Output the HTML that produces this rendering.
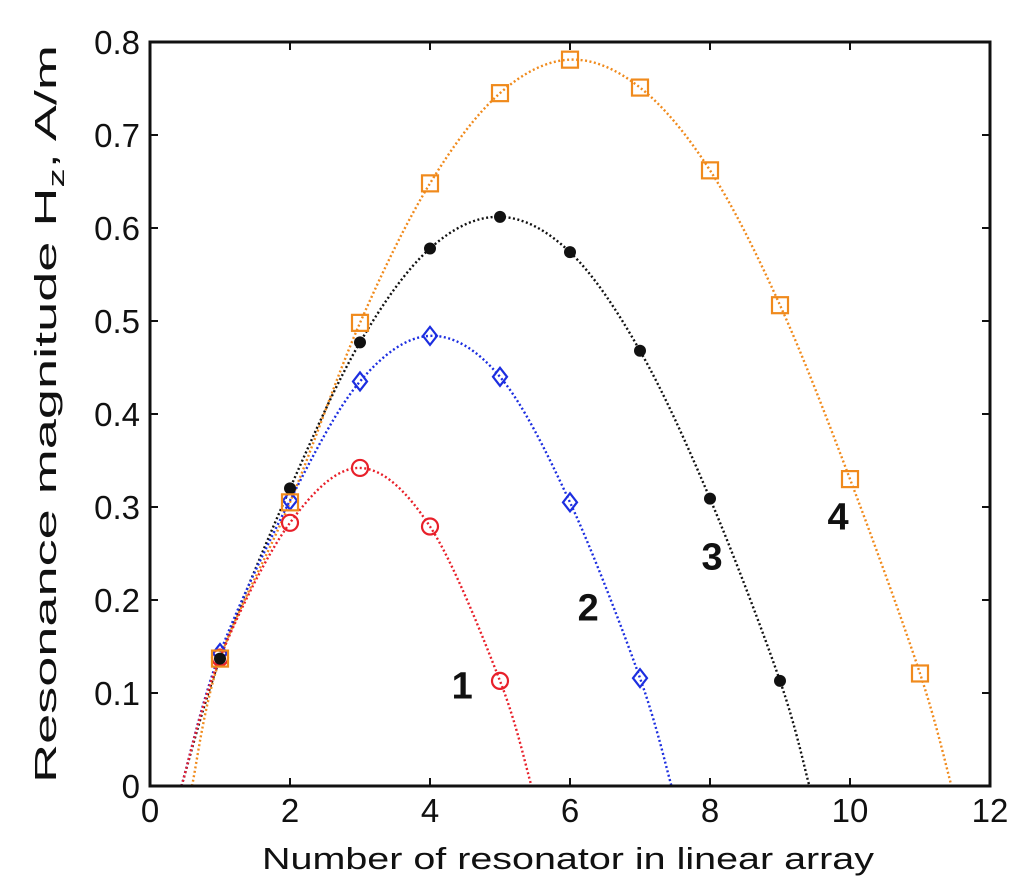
<!DOCTYPE html>
<html><head><meta charset="utf-8"><style>
body{margin:0;background:#fff}
svg{display:block}
text{font-family:"Liberation Sans",sans-serif}
</style></head><body>
<svg id="chart" width="1024" height="890" viewBox="0 0 1024 890" xmlns="http://www.w3.org/2000/svg">
<rect x="0" y="0" width="1024" height="890" fill="#fff"/>
<g id="plot"></g>
<g id="axes"></g>
<text x="262" y="869" font-size="31" textLength="612" lengthAdjust="spacingAndGlyphs" fill="#111">Number of resonator in linear array</text>
<text transform="translate(56,783) rotate(-90)" font-size="31" textLength="738" lengthAdjust="spacingAndGlyphs" fill="#111">Resonance magnitude H<tspan font-size="22" dy="8">z</tspan><tspan dy="-8">, A/m</tspan></text>
</svg>
<script>
const xTicks=[0,2,4,6,8,10,12];
const yTicks=[0,0.1,0.2,0.3,0.4,0.5,0.6,0.7,0.8];
const xs1=[1,2,3,4,5];
const ys1=[0.138,0.283,0.342,0.279,0.113];
const xs2=[1,2,3,4,5,6,7];
const ys2=[0.143,0.307,0.435,0.484,0.440,0.305,0.116];
const xs3=[1,2,3,4,5,6,7,8,9];
const ys3=[0.137,0.320,0.477,0.578,0.612,0.574,0.468,0.309,0.113];
const xs4=[1,2,3,4,5,6,7,8,9,10,11];
const ys4=[0.137,0.305,0.498,0.648,0.745,0.781,0.751,0.662,0.517,0.330,0.121];
const roots1=[0.45,5.45];
const roots2=[0.45,7.45];
const roots3=[0.45,9.42];
const roots4=[0.6,11.45];
const seriesLabels=["1","2","3","4"];
const labelPos=[[4.46,0.094],[6.26,0.178],[8.03,0.233],[9.83,0.276]];

const NS="http://www.w3.org/2000/svg";
const X=v=>150+70*v, Y=v=>786-930*v;
const plot=document.getElementById('plot'), axes=document.getElementById('axes');
function mk(tag,at,parent){const e=document.createElementNS(NS,tag);for(const k in at)e.setAttribute(k,at[k]);parent.appendChild(e);return e;}

const fr=mk('rect',{x:X(0),y:Y(0.8),width:X(12)-X(0),height:Y(0)-Y(0.8),fill:'none',stroke:'#111','stroke-width':3},axes);


xTicks.forEach(t=>{
  const l=mk('line',{x1:X(t),x2:X(t),y1:Y(0),y2:Y(0)-8,stroke:'#111','stroke-width':2},axes);
  
  
  const l2=mk('line',{x1:X(t),x2:X(t),y1:Y(0.8),y2:Y(0.8)+8,stroke:'#111','stroke-width':2},axes);
  
  
  const tx=mk('text',{x:X(t),y:Y(0)+36,'font-size':33,'text-anchor':'middle',fill:'#111'},axes);tx.textContent=t;
  
  
});
yTicks.forEach(t=>{
  const l=mk('line',{x1:X(0),x2:X(0)+8,y1:Y(t),y2:Y(t),stroke:'#111','stroke-width':2},axes);
  
  
  const l2=mk('line',{x1:X(12),x2:X(12)-8,y1:Y(t),y2:Y(t),stroke:'#111','stroke-width':2},axes);
  
  
  const tx=mk('text',{x:X(0)-10,y:Y(t)+12,'font-size':33,'text-anchor':'end',fill:'#111'},axes);tx.textContent=t;
  
  
});

function spline(pts){
  let d=`M${X(pts[0][0])},${Y(pts[0][1])}`;
  for(let i=0;i<pts.length-1;i++){
    const p0=pts[Math.max(0,i-1)],p1=pts[i],p2=pts[i+1],p3=pts[Math.min(pts.length-1,i+2)];
    const c1=[p1[0]+(p2[0]-p0[0])/6,p1[1]+(p2[1]-p0[1])/6];
    const c2=[p2[0]-(p3[0]-p1[0])/6,p2[1]-(p3[1]-p1[1])/6];
    d+=` C${X(c1[0])},${Y(c1[1])} ${X(c2[0])},${Y(c2[1])} ${X(p2[0])},${Y(p2[1])}`;
  }
  return d;
}
const series=[
 {xs:xs1,ys:ys1,r:roots1,c:'#e8202a',m:'circle'},
 {xs:xs2,ys:ys2,r:roots2,c:'#1c2ee0',m:'diamond'},
 {xs:xs3,ys:ys3,r:roots3,c:'#111',m:'dot'},
 {xs:xs4,ys:ys4,r:roots4,c:'#f08a1c',m:'square'}];
series.slice().reverse().forEach((s,ri)=>{
  const idx=3-ri;
  const pts=[[s.r[0],0]].concat(s.xs.map((x,i)=>[x,s.ys[i]])).concat([[s.r[1],0]]);
  const p=mk('path',{d:spline(pts),fill:'none',stroke:s.c,'stroke-width':2.4,'stroke-dasharray':'2 2.5'},plot);
  
  
});
series.forEach((s,idx)=>{
  s.xs.forEach((x,i)=>{
    const cx=X(x),cy=Y(s.ys[i]);let e;
    if(s.m==='circle')e=mk('circle',{cx,cy,r:8,fill:'none',stroke:s.c,'stroke-width':2.2},plot);
    else if(s.m==='diamond')e=mk('polygon',{points:`${cx},${cy-9} ${cx+7},${cy} ${cx},${cy+9} ${cx-7},${cy}`,fill:'none',stroke:s.c,'stroke-width':2.2},plot);
    else if(s.m==='dot')e=mk('circle',{cx,cy,r:6,fill:'#111'},plot);
    else e=mk('rect',{x:cx-8,y:cy-8,width:16,height:16,fill:'none',stroke:s.c,'stroke-width':2.2},plot);
    
    
  });
  const t=mk('text',{x:X(labelPos[idx][0]),y:Y(labelPos[idx][1]),'font-size':38,'font-weight':'bold','text-anchor':'middle',fill:'#111'},plot);
  t.textContent=seriesLabels[idx];
  
  
});
</script>
</body></html>
